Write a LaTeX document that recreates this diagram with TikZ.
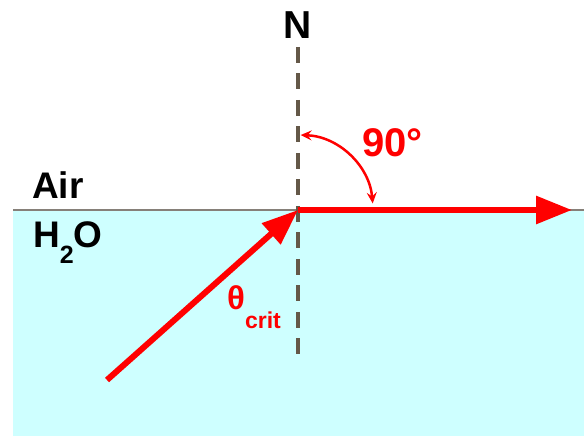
\documentclass[tikz,border=0pt]{standalone}
\usepackage{fontspec}
\setmainfont{Liberation Sans}
\usepackage{tikz}
\usetikzlibrary{arrows.meta,positioning}
\definecolor{viz}{RGB}{206,255,255}
\definecolor{barna}{RGB}{100,88,72}
\definecolor{piros}{RGB}{255,0,0}
\newcommand{\betu}[1]{\fontsize{#1}{#1}\selectfont\bfseries}
\tikzset{
  sugar/.style={line width=6pt,draw=piros,-{Triangle[length=36pt,width=27pt]}},
  felulet/.style={line width=2pt,draw=gray!90!brown},
  normalis/.style={line width=3.5pt,draw=barna,dash pattern=on 16pt off 10.5pt},
  ivnyil/.style={line width=2.5pt,draw=piros,{Stealth[length=11pt,width=10pt,inset=4pt]}-{Stealth[length=11pt,width=10pt,inset=4pt]}},
  felirat/.style={inner sep=0pt,anchor=base west},
  pfelirat/.style={felirat,text=piros},
}

\begin{document}
\begin{tikzpicture}[x=1pt,y=1pt]
  \useasboundingbox (0,0) rectangle (584,436);
  % viz
  \fill[viz] (13,0) rectangle (584,226);
  \coordinate (O) at (298,226);
  \coordinate (bal) at (13,226);
  \coordinate (jobb) at (584,226);
  \coordinate (nfent) at (298,389);
  \coordinate (nlent) at (298,78);
  \coordinate (be) at (107,56);
  \coordinate (ki) at (572,226);
  \draw[felulet] (bal) -- (jobb);
  \draw[normalis] (nfent) -- (nlent);
  \node[inner sep=0pt] (N) at (298,411) {\betu{39}N};
  \node[felirat] (air) at (32,237) {\betu{37}Air};
  \node[felirat] (viznev) at (33,188) {\betu{37}H\raisebox{-16pt}{\betu{25}2}O};
  % sugarak
  \draw[sugar] (be) -- (O);
  \draw[sugar] (O) -- (ki);
  \draw[ivnyil] ([shift={(88:75)}]O) arc (88:5:75);
  \node[pfelirat] (szog) at (362,279) {\betu{40}90°};
  \node[pfelirat] (theta) at (227,126) {\betu{33}θ\raisebox{-19pt}{\betu{23}crit}};
\end{tikzpicture}
\end{document}
